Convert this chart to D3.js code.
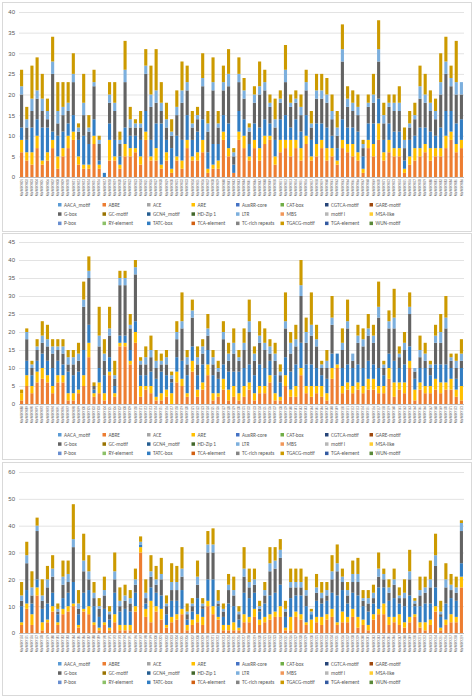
<!DOCTYPE html>
<html><head><meta charset="utf-8">
<script src="https://cdn.jsdelivr.net/npm/d3@7"></script>
<style>body{margin:0;background:#fff;font-family:Calibri,"Liberation Sans",Arial,sans-serif}</style>
</head><body>
<script>
// legend categories (Excel palette)
let legendNames = ['AACA_motif','ABRE','ACE','ARE','AuxRR-core','CAT-box','CGTCA-motif','GARE-motif',
  'G-box','GC-motif','GCN4_motif','HD-Zip 1','LTR','MBS','motif I','MSA-like',
  'P-box','RY-element','TATC-box','TCA-element','TC-rich repeats','TGACG-motif','TGA-element','WUN-motif']
let legendColors = ['#5B9BD5','#ED7D31','#A5A5A5','#FFC000','#4472C4','#70AD47','#264478','#9E480E',
  '#636363','#997300','#255E91','#43682B','#7CAFDD','#F1975A','#B7B7B7','#FFCD33',
  '#698ED0','#8CC168','#327DC2','#D26012','#848484','#CC9A00','#335AA1','#5A8A39']

// bar totals
let total1 = [26,17,27,29,25,19,34,23,23,23,30,13,25,15,26,10,1,23,23,11,33,17,14,16,31,27,31,23,18,14,21,28,27,16,17,30,16,29,16,27,31,7,29,24,13,22,28,26,20,19,21,32,20,21,20,26,16,25,25,24,20,16,37,22,21,20,9,20,25,38,18,20,20,22,12,16,18,27,25,21,19,30,34,27,33,14]
let abre1 = [6,4,3,7,3,4,7,2,5,7,9,3,2,2,8,2,0,4,4,2,5,5,6,3,9,4,4,2,4,1,4,2,7,4,4,6,1,2,2,9,5,1,9,7,4,7,4,8,9,3,6,7,5,7,4,8,4,5,7,4,5,3,7,6,5,4,1,7,5,9,4,6,5,5,1,3,4,5,6,4,5,5,7,9,6,7,5]
let are1 = [3,2,3,3,1,2,2,3,2,3,2,2,1,1,2,1,0,5,1,1,3,2,1,2,2,1,3,1,2,1,1,2,2,1,2,3,1,1,2,2,2,0,2,3,1,2,3,2,1,2,3,2,4,2,3,2,1,3,2,3,2,1,2,2,3,2,1,2,3,4,2,3,2,2,1,2,3,2,2,3,2,2,3,2,2,2,2]
let tatc1 = [3,3,6,4,8,6,2,5,4,3,4,4,7,5,4,1,1,4,4,2,4,3,3,4,5,4,6,10,3,5,5,5,6,4,5,5,4,5,4,4,6,2,5,4,3,4,5,4,3,4,5,6,3,5,4,5,4,5,4,5,3,3,5,4,4,5,3,4,5,6,3,4,4,4,2,4,3,5,4,4,3,5,6,5,5,5,3]
let gbox1 = [8,3,4,5,4,2,14,3,4,3,8,2,5,3,8,4,0,5,7,3,11,2,2,3,9,8,5,3,3,3,5,9,6,3,3,8,5,13,4,6,9,2,7,5,3,5,8,7,4,3,4,8,5,4,4,6,3,6,6,6,4,3,14,5,4,4,2,4,5,9,4,4,5,5,3,3,4,7,6,5,4,8,9,6,7,6,3]
let ltr1 = [2,2,3,2,3,2,3,3,2,2,2,1,3,1,1,1,0,2,2,1,3,2,1,1,2,3,3,2,2,1,2,3,2,1,1,2,2,2,1,2,3,1,2,2,1,2,2,2,1,2,1,3,1,1,2,2,1,2,2,2,2,2,3,2,2,2,1,1,2,3,2,1,2,2,2,1,1,3,2,2,2,3,3,2,3,3,1]

let total2 = [4,21,12,18,23,22,18,18,18,15,15,17,34,41,6,27,18,27,12,37,37,25,40,13,16,19,15,14,15,9,23,31,15,29,16,18,25,15,12,23,17,21,15,21,29,16,23,21,18,17,11,31,20,22,40,24,31,22,12,15,30,14,21,29,14,22,21,25,22,34,12,26,32,16,20,31,10,19,17,12,22,25,30,14,14,18]
let abre2 = [1,5,3,6,7,6,3,6,6,1,1,3,5,13,2,3,1,8,2,16,16,11,17,2,4,3,1,1,2,0,6,5,2,9,2,4,8,1,2,4,1,2,1,2,4,1,3,3,6,1,1,5,2,2,8,3,2,3,2,1,7,10,3,4,3,4,3,4,4,3,3,7,2,4,3,10,1,4,3,3,4,3,4,4,2,1]
let are2 = [2,3,2,3,3,2,2,2,2,2,2,1,3,4,1,3,2,1,1,1,1,1,3,3,1,2,1,2,2,3,3,2,1,3,2,2,3,2,1,3,3,3,2,3,2,2,2,2,2,2,1,3,2,3,2,2,3,2,3,2,3,1,2,2,2,2,2,3,3,2,2,3,4,2,3,2,3,2,2,2,3,3,2,3,2,4]
let tatc2 = [0,4,3,3,4,4,5,4,3,6,5,5,7,5,1,4,5,4,2,2,2,3,3,3,3,4,5,6,4,3,4,5,5,4,4,5,4,5,4,4,5,4,6,5,5,5,6,5,4,5,4,5,5,6,7,6,6,5,3,4,4,3,5,5,5,5,5,5,4,5,3,4,6,4,5,4,3,4,5,3,4,5,5,3,3,5]
let gbox2 = [0,6,2,3,3,4,4,3,3,2,3,3,12,13,1,6,4,6,2,14,14,6,13,3,3,4,3,2,3,1,5,9,3,8,3,3,4,3,2,7,3,5,3,5,9,4,6,5,2,4,2,8,5,5,13,6,8,6,2,3,8,0,5,10,2,6,6,7,6,14,2,7,9,3,4,9,2,3,2,2,6,6,10,2,3,2]
let ltr2 = [0,2,1,1,2,2,2,1,2,2,2,2,2,2,0,3,2,2,1,2,2,1,2,1,2,2,2,1,2,1,2,2,2,2,2,2,2,2,1,2,2,3,1,2,3,2,2,2,2,2,1,2,3,2,3,3,3,2,1,2,2,0,2,2,2,2,2,2,2,3,1,2,3,1,2,2,1,2,2,1,2,3,3,1,2,2]

let total3 = [19,34,23,43,20,25,29,11,27,27,48,16,37,29,19,13,21,10,30,17,18,16,24,36,20,29,25,28,14,26,25,32,11,13,27,13,38,39,16,11,22,21,10,32,24,24,12,19,32,32,35,12,24,24,24,21,9,22,19,19,29,33,24,19,27,28,16,16,18,30,24,20,24,17,20,31,13,21,21,27,37,12,26,22,21,42]
let abre3 = [3,9,3,14,1,4,8,3,7,8,10,2,8,7,3,1,3,1,4,1,1,1,8,30,6,4,8,5,2,4,5,7,1,3,4,3,10,7,5,1,1,1,1,4,4,6,3,4,5,6,6,1,1,6,5,3,0,4,3,5,6,3,4,4,6,2,3,1,5,7,7,3,4,3,2,4,6,2,1,3,8,1,3,4,4,17]
let are3 = [1,2,4,3,3,1,2,1,2,2,1,1,1,3,1,1,1,1,3,2,2,2,2,2,3,8,2,4,1,2,2,2,2,2,3,3,2,3,1,2,2,3,1,3,2,3,2,2,2,2,4,1,5,2,2,1,5,2,3,2,3,1,4,2,3,4,2,2,2,2,4,3,2,4,2,2,1,2,3,2,2,1,2,3,2,4]
let tatc3 = [6,5,4,3,5,6,5,3,4,5,8,4,6,6,6,4,5,3,8,5,6,5,5,1,2,5,5,5,4,6,5,7,2,3,6,3,8,10,4,3,8,6,3,8,7,6,3,5,7,7,8,4,7,6,7,6,2,6,5,5,6,10,8,5,6,8,5,5,4,8,6,6,7,4,6,8,3,6,7,6,7,4,6,6,6,5]
let gbox3 = [2,10,3,18,3,6,6,1,5,4,13,2,8,4,3,3,5,2,5,2,3,3,3,0,2,4,3,6,3,4,4,5,2,2,5,1,10,10,1,2,5,4,2,6,4,3,1,3,9,9,10,2,4,3,3,4,0,3,2,2,5,9,3,3,4,5,2,3,2,4,3,3,5,2,3,6,1,4,4,6,8,1,6,3,3,12]
let ltr3 = [2,3,3,2,2,3,3,1,3,3,3,2,4,3,2,1,2,1,3,2,2,2,2,1,2,2,2,2,1,3,3,3,1,1,3,1,3,3,1,1,2,2,1,3,2,2,1,2,3,3,3,1,2,2,2,2,1,2,2,2,3,3,2,2,3,3,1,2,2,3,2,2,2,1,2,3,1,2,2,3,4,1,3,2,2,3]

let yTicks1 = [0,5,10,15,20,25,30,35,40]
let yTicks2 = [0,5,10,15,20,25,30,35,40,45]
let yTicks3 = [0,10,20,30,40,50,60]

let width = 474, height = 698
let svg = d3.select('body').append('svg').attr('width', width).attr('height', height)

let stackKeys = ['ABRE','ARE','TATC-box','G-box','LTR','TGACG-motif']
let colorOf = d3.scaleOrdinal().domain(legendNames).range(legendColors)

// one panel: box, grid, stacked bars, names, legend
function panel(cfg) {
  let g = svg.append('g')
  g.append('rect').attr('x', 2.5).attr('y', cfg.top + 0.5).attr('width', width - 5).attr('height', cfg.h)
    .attr('fill', '#fff').attr('stroke', '#d9d9d9')

  let rows = cfg.total.map((t, i) => {
    let r = {name: 'NtaWRKY' + String(cfg.start + i).padStart(3, '0'),
      'ABRE': cfg.abre[i], 'ARE': cfg.are[i], 'TATC-box': cfg.tatc[i], 'G-box': cfg.gbox[i], 'LTR': cfg.ltr[i]}
    // top segment = read total minus the lower segments
    r['TGACG-motif'] = Math.max(0, t - cfg.abre[i] - cfg.are[i] - cfg.tatc[i] - cfg.gbox[i] - cfg.ltr[i])
    return r
  })

  let x = d3.scaleBand().domain(rows.map(d => d.name)).range([19, 464]).paddingInner(0.4).paddingOuter(0.2)
  let y = d3.scaleLinear().domain([0, d3.max(cfg.ticks)]).range([cfg.y0, cfg.y1])

  g.append('g').attr('transform', 'translate(19,0)')
    .call(d3.axisLeft(y).tickValues(cfg.ticks).tickSize(-445).tickPadding(4))
    .call(a => a.select('.domain').remove())
    .call(a => a.selectAll('line').attr('stroke', d => d === 0 ? '#bfbfbf' : '#e3e3e3'))
    .call(a => a.selectAll('text').attr('fill', '#595959').attr('font-size', 6))

  let series = d3.stack().keys(stackKeys)(rows)
  g.selectAll('g.s').data(series).enter().append('g')
    .attr('fill', s => colorOf(s.key))
    .selectAll('rect').data(s => s).enter().append('rect')
    .attr('x', d => x(d.data.name))
    .attr('width', x.bandwidth())
    .attr('y', d => y(d[1]))
    .attr('height', d => y(d[0]) - y(d[1]))

  g.selectAll('text.lab').data(rows).enter().append('text')
    .attr('class', 'lab')
    .attr('transform', d => 'translate(' + (x(d.name) + x.bandwidth() / 2 + 1.2) + ',' + (cfg.y0 + 2) + ') rotate(-90)')
    .attr('text-anchor', 'end').attr('font-size', 3.2).attr('fill', '#595959')
    .text(d => d.name)

  let leg = g.selectAll('g.leg').data(legendNames).enter().append('g')
    .attr('transform', (d, i) => 'translate(' + (58 + (i % 8) * 44.5) + ',' + (cfg.legY + Math.floor(i / 8) * 9.3) + ')')
  leg.append('rect').attr('width', 3.5).attr('height', 3.5).attr('y', -3).attr('fill', d => colorOf(d))
  leg.append('text').attr('x', 6).attr('y', 0.6).attr('font-size', 5.3).attr('fill', '#595959').text(d => d)
}

panel({top: 2, h: 229, y0: 177, y1: 12, ticks: yTicks1, start: 1, legY: 206,
  total: total1, abre: abre1, are: are1, tatc: tatc1, gbox: gbox1, ltr: ltr1})
panel({top: 233, h: 226, y0: 404, y1: 242, ticks: yTicks2, start: 88, legY: 436,
  total: total2, abre: abre2, are: are2, tatc: tatc2, gbox: gbox2, ltr: ltr2})
panel({top: 462, h: 233, y0: 633, y1: 472, ticks: yTicks3, start: 174, legY: 665,
  total: total3, abre: abre3, are: are3, tatc: tatc3, gbox: gbox3, ltr: ltr3})
</script>
</body></html>
